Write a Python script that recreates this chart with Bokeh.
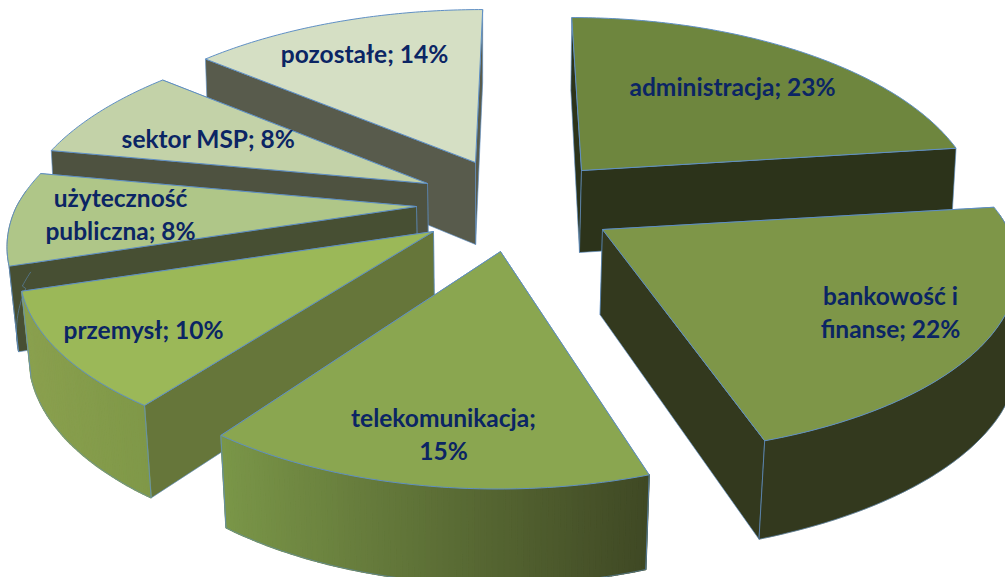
import math
from bokeh.plotting import figure
from bokeh.models import Range1d
from bokeh.core.properties import value
from bokeh.embed import file_html
from bokeh.resources import INLINE

categories = ["administracja", "bankowość i finanse", "telekomunikacja", "przemysł",
              "użyteczność publiczna", "sektor MSP", "pozostałe"]
shares = [23, 22, 15, 10, 8, 8, 14]
label_lines = [["administracja; 23%"], ["bankowość i", "finanse; 22%"], ["telekomunikacja;", "15%"],
               ["przemysł; 10%"], ["użyteczność", "publiczna; 8%"], ["sektor MSP; 8%"], ["pozostałe; 14%"]]

# Layout: exploded hub of each slice and its colours, all in the reference's pixel frame
hubs = [(581, 170), (602, 229), (500, 251), (433, 231), (416, 206), (427, 183), (475, 162)]
x_adj = [0.97, 1.015, 1.0, 1.012, 1.0, 1.0, 1.0]
y_adj = [1.0, 1.0, 1.057, 1.0, 1.0, 1.0, 1.0]
depth_adj = [1.0, 1.04, 1.0, 1.0, 1.0, 1.0, 1.0]
label_xy = [(732, 86), (890, 295), (443, 417), (143, 329), (120, 197), (208, 138), (364, 53)]
top_cols = ["#6e863e", "#7e9648", "#8aa650", "#9bb858", "#afc688", "#c3d2a8", "#d5dfc4"]
wall_cols = ["#2c331a", "#33391e", "#4a5429", "#66763a", "#474f33", "#4e5240", "#585b4c"]
outer_cols = [("#2c331a", "#2c331a"), ("#33391e", "#33391e"), ("#7a9648", "#3f4824"),
              ("#8aa04e", "#7f9848"), ("#474f33", "#474f33"), ("#4e5240", "#4e5240"), ("#aab39a", "#aab39a")]
draw_order = [0, 6, 5, 4, 3, 1, 2]
EDGE = "#5f8fc4"
LINE_H = 33
RX, RY, K, CX = 400, 182, 0.19, 520
DEPTH, DEPTH_K, VX, VF = 82, 0.7, 480, 0.02


def top_point(i, theta):
    hub = hubs[i]
    u, v = math.sin(theta), math.cos(theta)
    s = 1 / (1 + K * v)
    drift = (hub[0] - CX) * (s - 1) * (1 if s < 1 else 0.5)
    return hub[0] + drift + RX * x_adj[i] * u * s, hub[1] - RY * y_adj[i] * v * s, s


def bottom_of(i, x, y, s):
    dx = (VX - x) * (VF if s >= 1 else VF / 2)
    if s > 1 and x > 800:
        dx *= max(0, (1000 - x) / 200)
    return x + dx, y + DEPTH * depth_adj[i] * (1 + (s - 1) * DEPTH_K)


def mix(a, b, t):
    ca = [int(a[i:i + 2], 16) for i in (1, 3, 5)]
    cb = [int(b[i:i + 2], 16) for i in (1, 3, 5)]
    return "#%02x%02x%02x" % tuple(round(p + (q - p) * t) for p, q in zip(ca, cb))


p = figure(width=1005, height=577, output_backend="svg", toolbar_location=None,
           x_range=Range1d(0, 1005), y_range=Range1d(577, 0), min_border=0)
p.axis.visible = False
p.grid.visible = False
p.outline_line_color = None
p.background_fill_color = "white"
p.border_fill_color = "white"

total = sum(shares)
starts, acc = [], 0
for sh in shares:
    starts.append(acc)
    acc += sh

for i in draw_order:
    hub = hubs[i]
    a0 = 2 * math.pi * starts[i] / total
    a1 = 2 * math.pi * (starts[i] + shares[i]) / total
    n = max(24, shares[i] * 5)
    angles = [a0 + (a1 - a0) * j / n for j in range(n + 1)]
    arc = [top_point(i, a) for a in angles]
    ax = [q[0] for q in arc]
    ay = [q[1] for q in arc]
    low = [bottom_of(i, *q) for q in arc]
    hbx, hby = bottom_of(i, hub[0], hub[1], 1)

    # radial walls: the one nearer the viewer goes last
    pair = [(arc[0], low[0]), (arc[-1], low[-1])]
    pair.sort(key=lambda w: w[0][1])
    for q, b in pair:
        p.patch([hub[0], q[0], b[0], hbx], [hub[1], q[1], b[1], hby],
                fill_color=wall_cols[i], line_color=EDGE, line_width=0.8, line_alpha=0.8)

    # curved outer wall: only the part that faces the viewer
    front = [j for j, a in enumerate(angles) if math.cos(a) < 0.1]
    if front:
        f0, f1 = front[0], front[-1]
        bx = ax[f0:f1 + 1] + [q[0] for q in low[f0:f1 + 1]][::-1]
        by = ay[f0:f1 + 1] + [q[1] for q in low[f0:f1 + 1]][::-1]
        base = mix(outer_cols[i][0], outer_cols[i][1], 0.5)
        p.patch(bx, by, fill_color=base, line_color=base, line_width=0.5)
        if outer_cols[i][0] != outer_cols[i][1]:
            xmin, xmax = min(ax[f0:f1 + 1]), max(ax[f0:f1 + 1])
            xs, ys, cols = [], [], []
            for j in range(f0, f1):
                xs.append([ax[j], ax[j + 1], low[j + 1][0], low[j][0]])
                ys.append([ay[j], ay[j + 1], low[j + 1][1], low[j][1]])
                t = ((ax[j] + ax[j + 1]) / 2 - xmin) / max(xmax - xmin, 1)
                cols.append(mix(outer_cols[i][0], outer_cols[i][1], t))
            p.patches(xs, ys, fill_color=cols, line_color=cols, line_width=1.5)
        p.line([q[0] for q in low[f0:f1 + 1]], [q[1] for q in low[f0:f1 + 1]],
               line_color=EDGE, line_width=0.8, line_alpha=0.7)
        for j in (f0, f1):
            if j in (0, n):
                p.line([ax[j], low[j][0]], [ay[j], low[j][1]], line_color=EDGE, line_width=0.8)

    # top face
    p.patch([hub[0]] + ax, [hub[1]] + ay, fill_color=top_cols[i], line_color=EDGE, line_width=1)

for lines, (lx, ly) in zip(label_lines, label_xy):
    for j, line in enumerate(lines):
        p.text([lx], [ly + j * LINE_H], text=[line], text_font=value("Lato"), text_font_style="bold",
               text_font_size="24.5px", text_color="#0b2564", text_align="center", text_baseline="middle")

open("out.html", "w").write(file_html(p, INLINE))
